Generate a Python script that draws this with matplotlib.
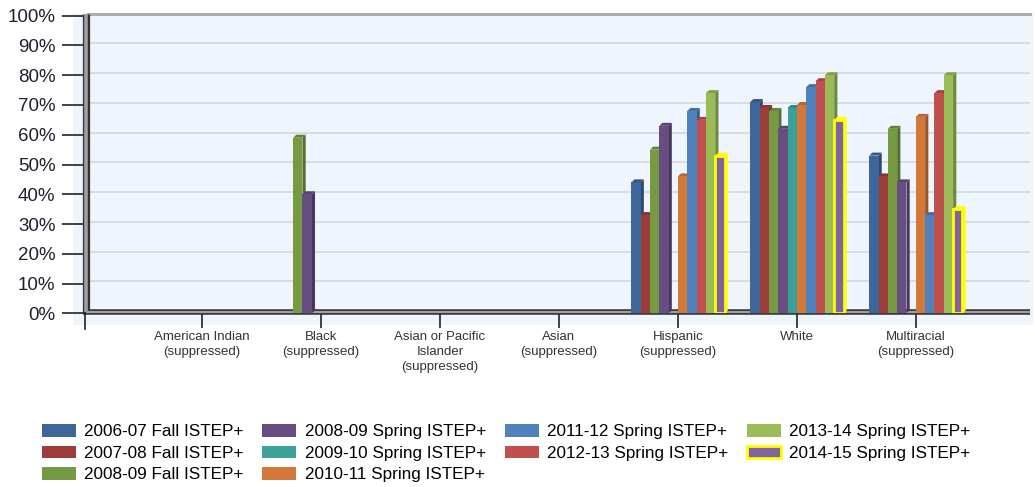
import matplotlib
matplotlib.use("Agg")
import matplotlib.pyplot as plt
from matplotlib.patches import Rectangle, Polygon, Patch
from matplotlib.lines import Line2D
import matplotlib.colors as mcolors
import numpy as np

# ---------------- data ----------------
categories = ["American Indian\n(suppressed)", "Black\n(suppressed)",
              "Asian or Pacific\nIslander\n(suppressed)", "Asian\n(suppressed)",
              "Hispanic\n(suppressed)", "White", "Multiracial\n(suppressed)"]

series_names = ["2006-07 Fall ISTEP+", "2007-08 Fall ISTEP+", "2008-09 Fall ISTEP+",
                "2008-09 Spring ISTEP+", "2009-10 Spring ISTEP+", "2010-11 Spring ISTEP+",
                "2011-12 Spring ISTEP+", "2012-13 Spring ISTEP+", "2013-14 Spring ISTEP+",
                "2014-15 Spring ISTEP+"]

N = None
s0607_fall = [N, N, N, N, 44, 71, 53]
s0708_fall = [N, N, N, N, 33, 69, 46]
s0809_fall = [N, 59, N, N, 55, 68, 62]
s0809_spring = [N, 40, N, N, 63, 62, 44]
s0910_spring = [N, N, N, N, N, 69, N]
s1011_spring = [N, N, N, N, 46, 70, 66]
s1112_spring = [N, N, N, N, 68, 76, 33]
s1213_spring = [N, N, N, N, 65, 78, 74]
s1314_spring = [N, N, N, N, 74, 80, 80]
s1415_spring = [N, N, N, N, 53, 65, 35]

series_values = [s0607_fall, s0708_fall, s0809_fall, s0809_spring, s0910_spring,
                 s1011_spring, s1112_spring, s1213_spring, s1314_spring, s1415_spring]

colors = ["#3E6698", "#9C3D3B", "#759A42", "#664D82", "#3AA098",
          "#D2793A", "#4F81BD", "#C0504D", "#9BBB59", "#8064A2"]

y_ticks = [0, 10, 20, 30, 40, 50, 60, 70, 80, 90, 100]
y_tick_labels = [f"{t}%" for t in y_ticks]

# ---------------- figure ----------------
W, H = 1035, 487
fig = plt.figure(figsize=(W / 100, H / 100), dpi=100)
plt.rcParams["font.family"] = ["Liberation Sans", "DejaVu Sans"]

def fx(px):
    return px / W

def fy(py):
    return 1 - py / H

ax_l, ax_r, ax_t, ax_b = 88, 1030, 15.7, 313.3
ax = fig.add_axes([fx(ax_l), fy(ax_b), fx(ax_r - ax_l), (ax_b - ax_t) / H])
ax.set_facecolor("none")

bg = "#EEF5FD"
fig.add_artist(Rectangle((fx(73), fy(325)), fx(1033 - 73), (325 - 13) / H,
                         transform=fig.transFigure, facecolor=bg, edgecolor="none", zorder=-1))

ax.set_xlim(-0.96, 6.96)
ax.set_ylim(0, 100)

# grid (back wall)
for t in y_ticks[1:-1]:
    ax.axhline(t + 0.7, color="#D8DBE0", lw=1.4, zorder=1)

# bars with pseudo-3D faces
nser = len(series_values)
w = 0.0784
dx = 0.027
dy = 1.0
yellow = "#FFFF00"

def darker(c, f):
    r, g, b = mcolors.to_rgb(c)
    return (r * f, g * f, b * f)

for s, (vals, col) in enumerate(zip(series_values, colors)):
    xs, hs = [], []
    for c, v in enumerate(vals):
        if v is None:
            continue
        xs.append(c + (s - (nser - 1) / 2) * w)
        hs.append(v)
    z = 3 + s * 0.1
    hl = (s == nser - 1)
    side_c = yellow if hl else darker(col, 0.72)
    top_c = yellow if hl else darker(col, 0.85)
    for x, h in zip(xs, hs):
        xr = x + w / 2
        xl = x - w / 2
        ax.add_patch(Polygon([(xr, 0), (xr + dx, dy), (xr + dx, h + dy), (xr, h)],
                             closed=True, facecolor=side_c, edgecolor="none", zorder=z))
        ax.add_patch(Polygon([(xl, h), (xl + dx, h + dy), (xr + dx, h + dy), (xr, h)],
                             closed=True, facecolor=top_c, edgecolor="none", zorder=z))
    ax.bar(xs, hs, width=w, color=col,
           edgecolor=yellow if hl else "none", linewidth=2.0 if hl else 0,
           zorder=z + 0.01)

# spines / walls
for sp in ax.spines.values():
    sp.set_visible(False)

# top edge of back wall
ax.add_line(Line2D([0, 1], [1.006, 1.006], transform=ax.transAxes, color="#A9ACB0",
                   lw=2.2, clip_on=False, zorder=2))
# left wall
ax.add_line(Line2D([-0.002, -0.002], [0, 1.006], transform=ax.transAxes, color="#333333",
                   lw=5.2, clip_on=False, zorder=2, solid_capstyle="butt"))
ax.add_line(Line2D([-0.002, -0.002], [0.004, 1.006], transform=ax.transAxes, color="#A0A0A0",
                   lw=2.6, clip_on=False, zorder=2.1, solid_capstyle="butt"))
# floor
ax.add_line(Line2D([-0.005, 1], [0.006, 0.006], transform=ax.transAxes, color="#333333",
                   lw=4.0, clip_on=False, zorder=2, solid_capstyle="butt"))
ax.add_line(Line2D([-0.002, 1], [0.006, 0.006], transform=ax.transAxes, color="#A0A0A0",
                   lw=1.6, clip_on=False, zorder=2.1, solid_capstyle="butt"))
# origin tick below floor
fig.add_artist(Line2D([fx(85), fx(85)], [fy(313), fy(329)], transform=fig.transFigure,
                      color="#222222", lw=1.2))

# ticks
ax.set_yticks(y_ticks)
ax.set_yticklabels(y_tick_labels, fontsize=13.5, color="#1E2230")
ax.tick_params(axis="y", direction="out", length=18.5, width=1.2, pad=5, color="#222222")
ax.set_xticks(range(len(categories)))
ax.set_xticklabels(categories, fontsize=9.5, color="#333333", linespacing=1.3)
ax.tick_params(axis="x", direction="out", length=10.5, width=1.2, pad=2.5, color="#222222")

# legend
handles = []
for s, (name, col) in enumerate(zip(series_names, colors)):
    if s == nser - 1:
        handles.append(Patch(facecolor=col, edgecolor=yellow, linewidth=2.0, label=name))
    else:
        handles.append(Patch(facecolor=col, edgecolor="none", label=name))
fig.legend(handles=handles, loc="upper left", bbox_to_anchor=(fx(42), fy(424)),
           ncol=4, frameon=False, fontsize=12.3, handlelength=2.0, handleheight=0.78,
           handletextpad=0.48, columnspacing=1.08, labelspacing=0.36,
           borderpad=0, borderaxespad=0)

fig.savefig("out.png", dpi=100, facecolor="white")
